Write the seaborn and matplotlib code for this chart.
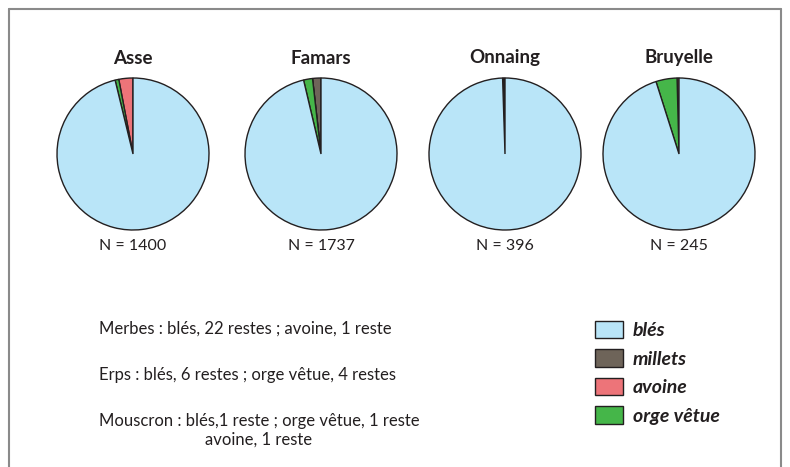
import numpy as np
import matplotlib.pyplot as plt
import seaborn as sns
from matplotlib.patches import Patch
from matplotlib.lines import Line2D

# Data
sites = ['Asse', 'Famars', 'Onnaing', 'Bruyelle']
totals = [1400, 1737, 396, 245]
categories = ['millets', 'avoine', 'orge vêtue', 'blés']
# counts per site, in the order of categories (counterclockwise from top)
millets = [0, 31, 1, 0]
avoine = [42, 0, 0, 1]
orge = [11, 33, 1, 11]
bles = [1347, 1673, 394, 233]

legend_order = ['blés', 'millets', 'avoine', 'orge vêtue']
notes = [
    'Merbes : blés, 22 restes ; avoine, 1 reste',
    'Erps : blés, 6 restes ; orge vêtue, 4 restes',
    'Mouscron : blés,1 reste ; orge vêtue, 1 reste',
    'avoine, 1 reste',
]

sns.set_theme(style="white")
plt.rcParams['font.family'] = ['Lato', 'DejaVu Sans']
colors = dict(zip(categories, sns.color_palette(['#6e6459', '#ed7479', '#45b649', '#b9e5f8'])))
edge = '#231f20'

W, H = 790, 467
fig = plt.figure(figsize=(W / 100, H / 100), dpi=100)

# frame (no bottom edge)
gray = '#8a8a8a'
fig.add_artist(Line2D([9 / W, 9 / W], [0, 1 - 9 / H], color=gray, lw=1.5))
fig.add_artist(Line2D([781 / W, 781 / W], [0, 1 - 9 / H], color=gray, lw=1.5))
fig.add_artist(Line2D([9 / W, 781 / W], [1 - 9 / H, 1 - 9 / H], color=gray, lw=1.5))

centers_x = [133, 321, 505, 679]
cy, r = 154, 76
for i, site in enumerate(sites):
    cx = centers_x[i]
    ax = fig.add_axes([(cx - r) / W, 1 - (cy + r) / H, 2 * r / W, 2 * r / H])
    vals = [millets[i], avoine[i], orge[i], bles[i]]
    ax.pie(vals, colors=[colors[c] for c in categories], startangle=90,
           counterclock=True, radius=1,
           wedgeprops=dict(edgecolor=edge, linewidth=1))
    ax.set_xlim(-1, 1)
    ax.set_ylim(-1, 1)
    ax.set_aspect('equal')
    ax.axis('off')
    fig.text(cx / W, 1 - 58 / H, site, ha='center', va='center',
             fontsize=13.5, fontweight='bold', color='#231f20')
    fig.text(cx / W, 1 - 246 / H, f'N = {totals[i]}', ha='center', va='center',
             fontsize=11.5, color='#231f20')

# notes on the left
note_y = [329, 375, 421, 440]
note_x = [99, 99, 99, 205]
for t, x, y in zip(notes, note_x, note_y):
    fig.text(x / W, 1 - y / H, t, ha='left', va='center', fontsize=12, color='#231f20')

handles = [Patch(facecolor=colors[c], edgecolor=edge, linewidth=1) for c in legend_order]
leg = fig.legend(handles, legend_order, loc='upper left',
                 bbox_to_anchor=(587 / W, 1 - 313 / H), frameon=False,
                 handlelength=1.45, handleheight=1.0, labelspacing=0.52,
                 handletextpad=0.5, borderaxespad=0,
                 prop=dict(family='Lato', size=14, weight='bold', style='italic'))
for txt in leg.get_texts():
    txt.set_color('#231f20')

fig.savefig('out.png', dpi=100)
